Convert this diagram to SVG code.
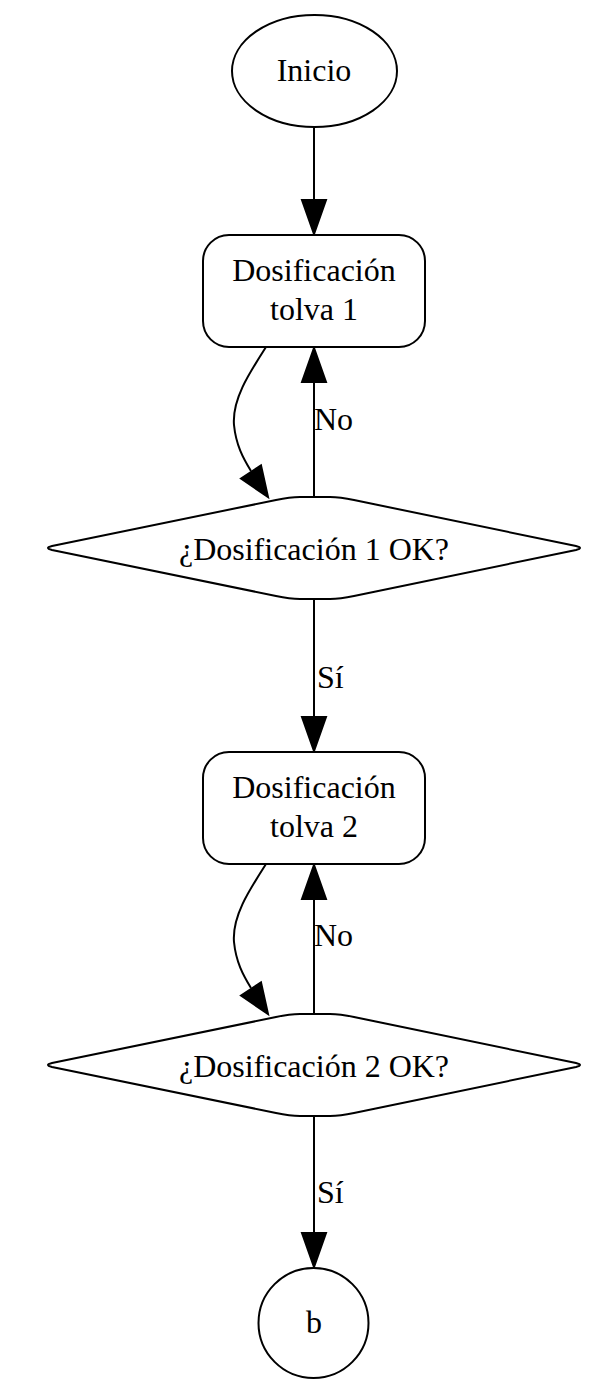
<svg xmlns="http://www.w3.org/2000/svg" width="605" height="1381" viewBox="0 0 605 1381">
<style>
.shape{fill:#fff;stroke:#000;stroke-width:2}
.edge{fill:none;stroke:#000;stroke-width:2}
.head{fill:#000;stroke:#000;stroke-width:2}
text{font-family:"Liberation Serif","Times New Roman",serif;font-size:32px;fill:#000}
.c{text-anchor:middle}
</style>
<rect width="605" height="1381" fill="#fff"/>
<g id="connectors">
  <g id="e-inicio-t1">
    <line class="edge" x1="314" y1="127" x2="314" y2="200"/>
    <polygon class="head" points="302,200 326,200 314,234"/>
  </g>
  <g id="e-t1-d1">
    <path class="edge" d="M266,347 C248,375 232,400 234,425 C236,445 243,458 251,471"/>
    <polygon class="head" points="241,478.6 261,465.4 268,497"/>
  </g>
  <g id="e-d1-t1">
    <line class="edge" x1="314" y1="497" x2="314" y2="382"/>
    <polygon class="head" points="302,382 326,382 314,348"/>
    <text x="314" y="430">No</text>
  </g>
  <g id="e-d1-t2">
    <line class="edge" x1="314" y1="599" x2="314" y2="717"/>
    <polygon class="head" points="302,717 326,717 314,751"/>
    <text x="317" y="688">Sí</text>
  </g>
  <g id="e-t2-d2">
    <path class="edge" d="M266,864 C248,892 232,917 234,942 C236,962 243,975 251,988"/>
    <polygon class="head" points="241,995.6 261,982.4 268,1014"/>
  </g>
  <g id="e-d2-t2">
    <line class="edge" x1="314" y1="1014" x2="314" y2="899"/>
    <polygon class="head" points="302,899 326,899 314,865"/>
    <text x="314" y="946">No</text>
  </g>
  <g id="e-d2-b">
    <line class="edge" x1="314" y1="1116" x2="314" y2="1233"/>
    <polygon class="head" points="302,1233 326,1233 314,1267"/>
    <text x="317" y="1203">Sí</text>
  </g>
</g>
<g id="inicio">
  <ellipse class="shape" cx="314.5" cy="71" rx="82.5" ry="56"/>
  <text class="c" x="314" y="81">Inicio</text>
</g>
<g id="tolva1">
  <rect class="shape" x="203" y="235" width="222" height="112" rx="26" ry="26"/>
  <text class="c" x="314" y="281">Dosificación</text>
  <text class="c" x="314" y="320">tolva 1</text>
</g>
<g id="check1">
  <path class="shape" d="M52,546 L276,500 Q290,497 300,497 L330,497 Q340,497 354,500 L576,546 Q584,548 576,550 L354,596 Q340,599 330,599 L300,599 Q290,599 276,596 L52,550 Q44,548 52,546 Z"/>
  <text class="c" x="314" y="560">¿Dosificación 1 OK?</text>
</g>
<g id="tolva2">
  <rect class="shape" x="203" y="752" width="222" height="112" rx="26" ry="26"/>
  <text class="c" x="314" y="798">Dosificación</text>
  <text class="c" x="314" y="837">tolva 2</text>
</g>
<g id="check2">
  <path class="shape" d="M52,1063 L276,1017 Q290,1014 300,1014 L330,1014 Q340,1014 354,1017 L576,1063 Q584,1065 576,1067 L354,1113 Q340,1116 330,1116 L300,1116 Q290,1116 276,1113 L52,1067 Q44,1065 52,1063 Z"/>
  <text class="c" x="314" y="1077">¿Dosificación 2 OK?</text>
</g>
<g id="b">
  <circle class="shape" cx="313.5" cy="1323" r="55"/>
  <text class="c" x="314" y="1333">b</text>
</g>
</svg>
